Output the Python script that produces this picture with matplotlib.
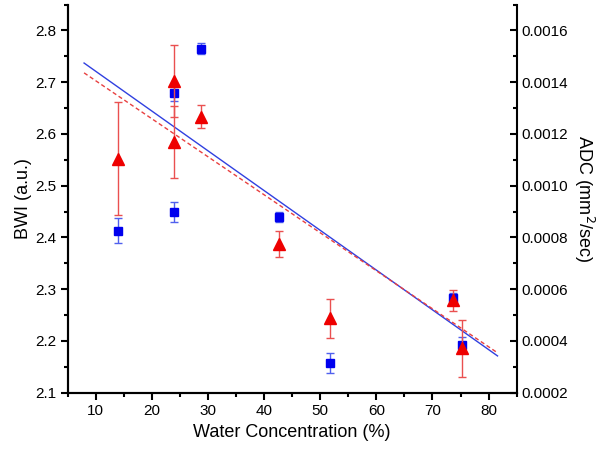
import matplotlib
matplotlib.use("Agg")
import matplotlib.pyplot as plt
from matplotlib.ticker import MultipleLocator, FormatStrFormatter

plt.rcParams['font.family'] = ['Liberation Sans', 'DejaVu Sans']

# BWI (left axis, blue squares)
bwi_x = [14.0, 23.9, 23.9, 28.7, 42.7, 51.7, 73.6, 75.3]
bwi_y = [2.413, 2.679, 2.449, 2.765, 2.440, 2.157, 2.283, 2.192]
bwi_err = [0.024, 0.015, 0.020, 0.011, 0.010, 0.019, 0.010, 0.015]

# ADC (right axis, red triangles)
adc_x = [14.0, 23.9, 23.9, 28.7, 42.7, 51.7, 73.6, 75.3]
adc_y = [0.001105, 0.001404, 0.001169, 0.001266, 0.000774, 0.000487, 0.000557, 0.000371]
adc_err = [0.00022, 0.00014, 0.00014, 0.000044, 0.00005, 0.000075, 0.00004, 0.00011]

# linear fits, endpoints
fit_x = [7.9, 81.6]
bwi_fit = [2.737, 2.171]
adc_fit = [0.001436, 0.000354]

fig = plt.figure(figsize=(6.0, 4.55), dpi=100)
ax = fig.add_axes([0.113, 0.137, 0.748, 0.853])
ax2 = ax.twinx()

ax.plot(fit_x, bwi_fit, color="#3040e0", lw=1.0, zorder=2)
ax.errorbar(bwi_x, bwi_y, yerr=bwi_err, fmt="s", color="#0000ee", ms=6,
            ecolor="#5060ee", elinewidth=1.0, capsize=3, capthick=1.0, zorder=3)

ax2.plot(fit_x, adc_fit, color="#e84040", lw=1.0, ls=(0, (3, 2)), zorder=2)
ax2.errorbar(adc_x, adc_y, yerr=adc_err, fmt="^", color="#ee0000", ms=8.5,
             ecolor="#ea5050", elinewidth=1.0, capsize=3, capthick=1.0, zorder=3)

ax.set_xlim(5, 85)
ax.set_ylim(2.1, 2.85)
ax2.set_ylim(0.0002, 0.0017)

ax.xaxis.set_major_locator(MultipleLocator(10))
ax.xaxis.set_minor_locator(MultipleLocator(5))
ax.yaxis.set_major_locator(MultipleLocator(0.1))
ax.yaxis.set_minor_locator(MultipleLocator(0.05))
ax.yaxis.set_major_formatter(FormatStrFormatter("%.1f"))
ax2.yaxis.set_major_locator(MultipleLocator(0.0002))
ax2.yaxis.set_minor_locator(MultipleLocator(0.0001))
ax2.yaxis.set_major_formatter(FormatStrFormatter("%.4f"))

for a in (ax, ax2):
    a.spines["top"].set_visible(False)
    for s in a.spines.values():
        s.set_linewidth(1.5)
ax.spines["right"].set_visible(False)

ax.tick_params(which="major", direction="out", length=5, width=1.5, labelsize=11)
ax.tick_params(which="minor", direction="out", length=3, width=1.5)
ax2.tick_params(which="major", direction="in", length=5, width=1.5, labelsize=11)
ax2.tick_params(which="minor", direction="in", length=3, width=1.5)

ax.set_xlabel("Water Concentration (%)", fontsize=13, labelpad=4)
ax.set_ylabel("BWI (a.u.)", fontsize=13, labelpad=2)
ax2.set_ylabel("ADC (mm$^2$/sec)", fontsize=13, rotation=-90, labelpad=20)

fig.savefig("out.png", dpi=100)
